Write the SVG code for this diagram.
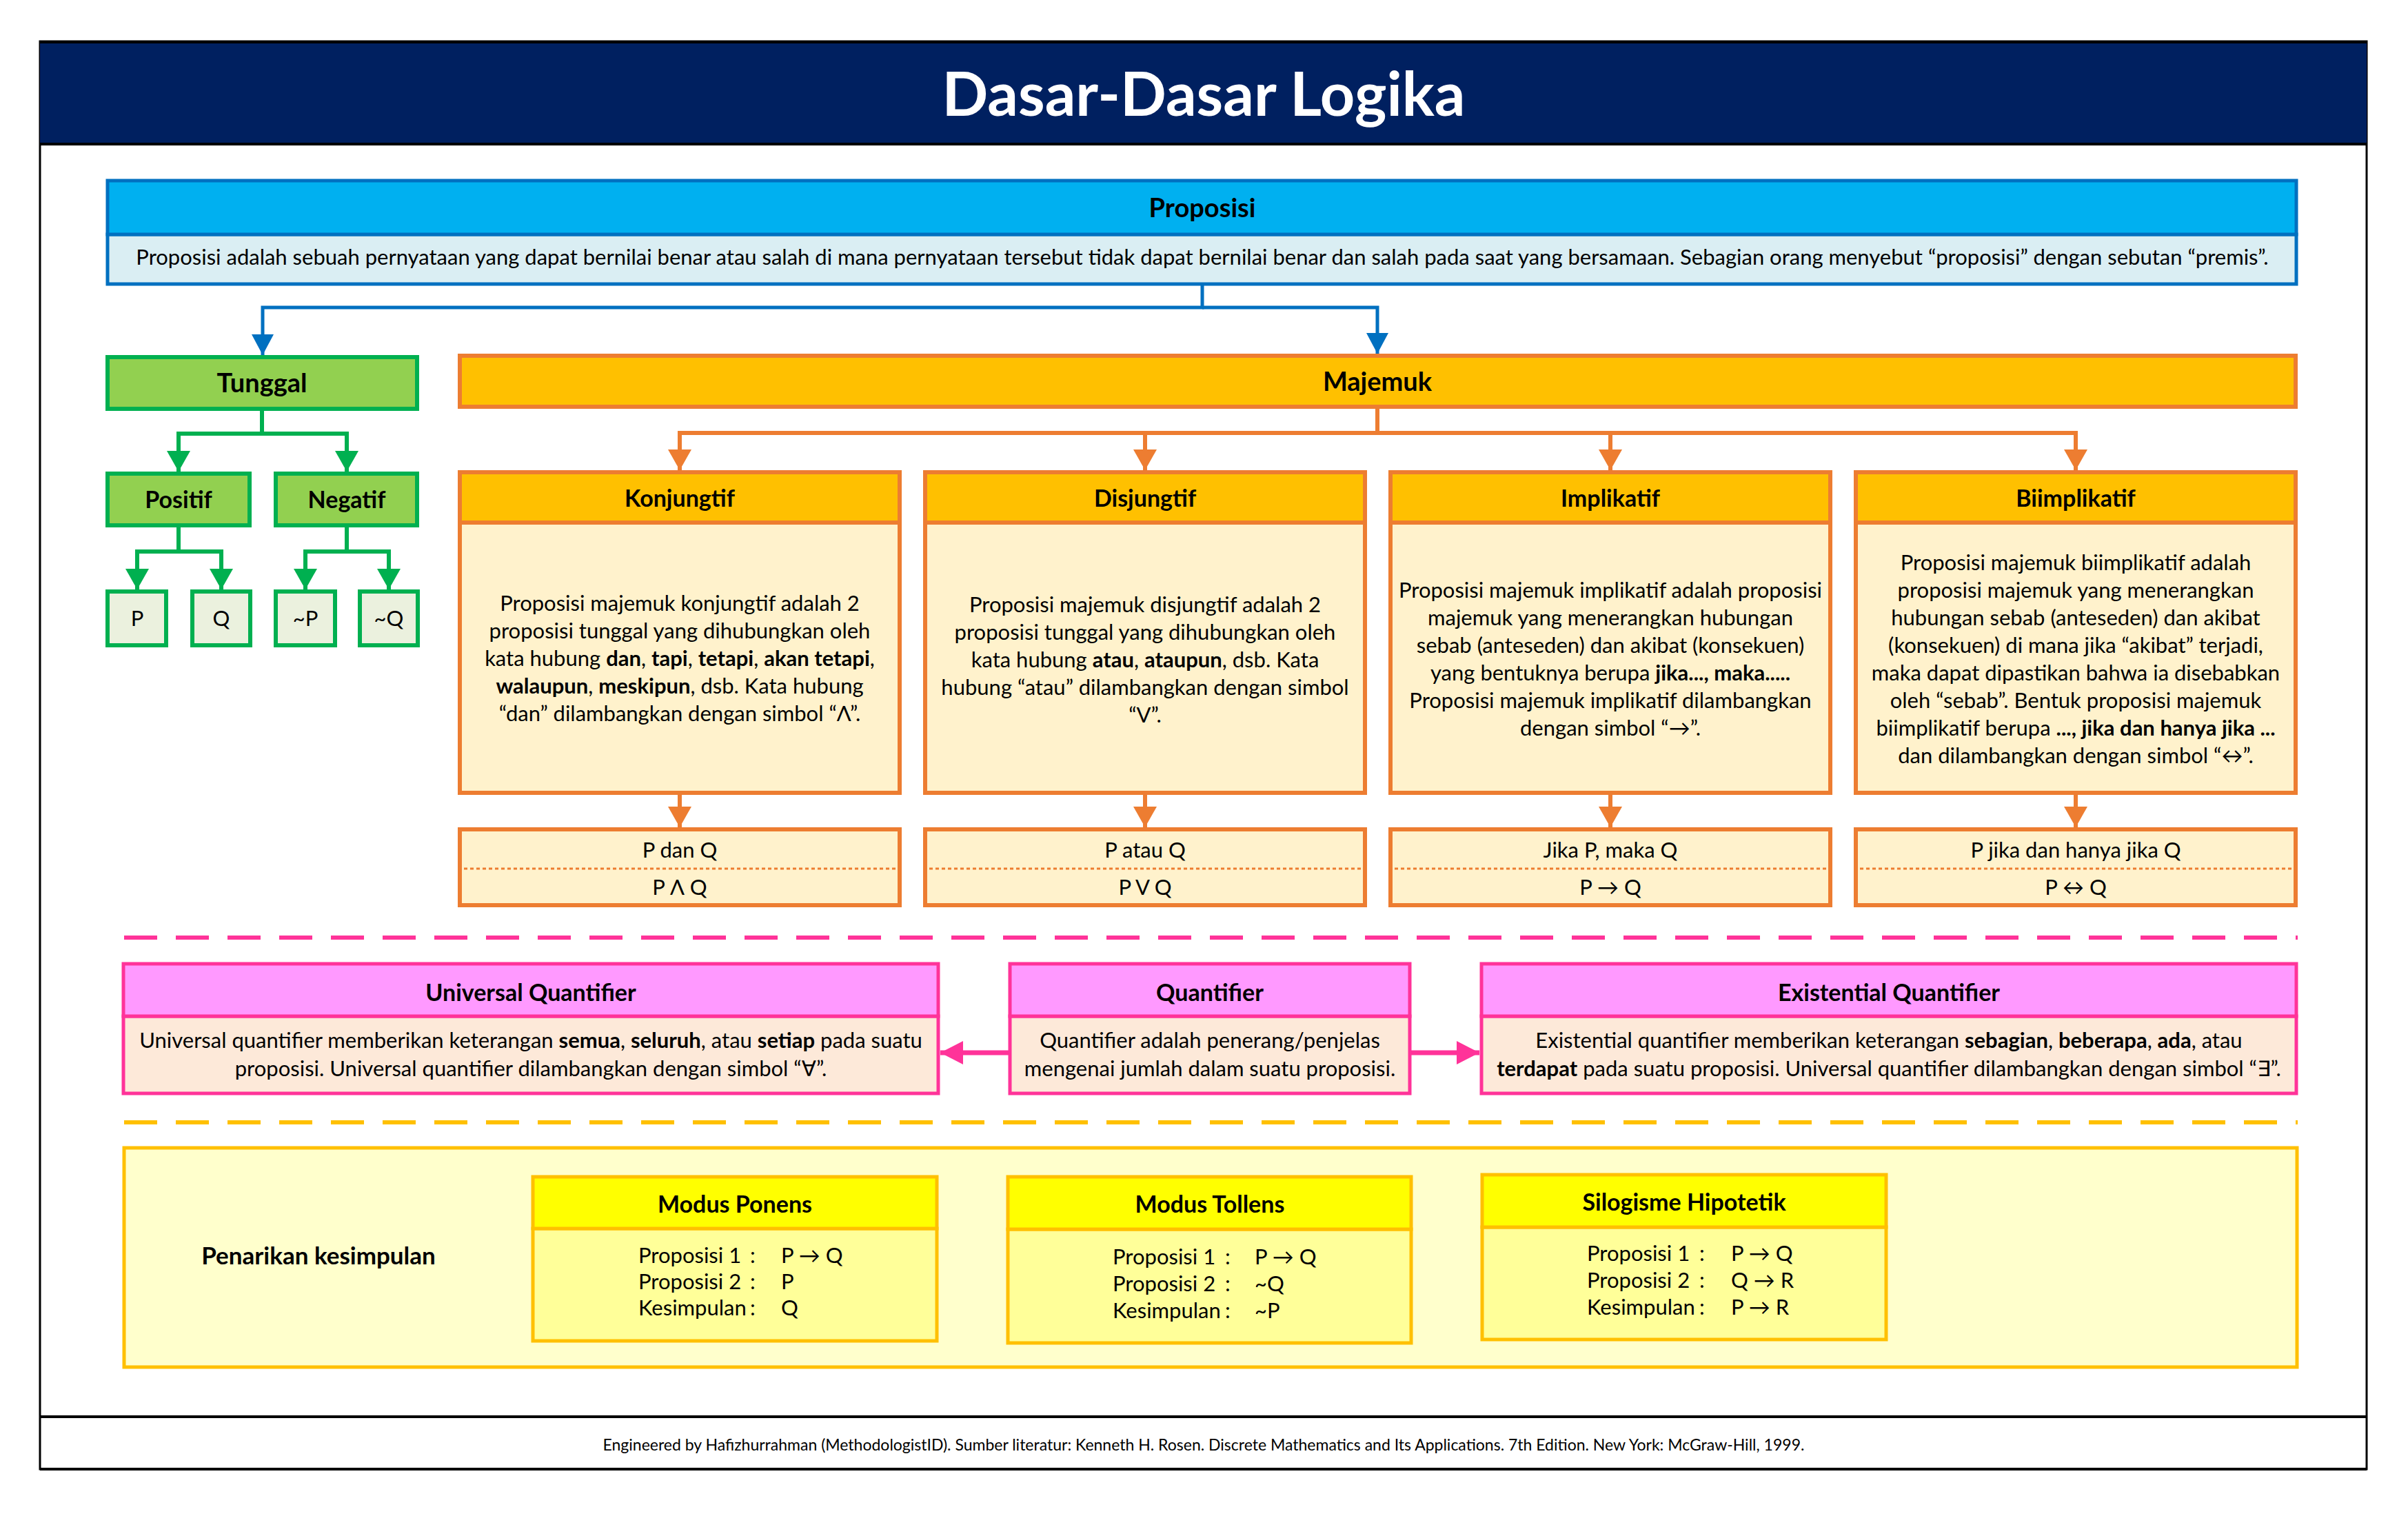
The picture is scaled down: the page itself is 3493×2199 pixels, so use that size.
<svg xmlns="http://www.w3.org/2000/svg" width="3493" height="2199" viewBox="0 0 3493 2199">
  <style>
    text { font-family: "Lato", "Open Sans", "DejaVu Sans", sans-serif; fill: #000; }
    .t { font-size: 31px; }
    .tc { font-size: 31px; text-anchor: middle; }
    .h { font-size: 34px; font-weight: bold; text-anchor: middle; }
    .hl { font-size: 38px; font-weight: bold; text-anchor: middle; }
    .b { font-weight: bold; }
    .blue-h { fill: #00B0F0; stroke: #0070C0; stroke-width: 5; }
    .blue-b { fill: #DAEEF3; stroke: #0070C0; stroke-width: 5; }
    .green { fill: #92D050; stroke: #00B050; stroke-width: 6; }
    .green-l { fill: #EBF1DE; stroke: #00B050; stroke-width: 6; }
    .or-h { fill: #FFC000; stroke: #ED7D31; stroke-width: 6; }
    .or-b { fill: #FFF2CC; stroke: #ED7D31; stroke-width: 6; }
    .pk-h { fill: #FF99FF; stroke: #FF3399; stroke-width: 5; }
    .pk-b { fill: #FDE9D9; stroke: #FF3399; stroke-width: 5; }
    .yl-h { fill: #FFFF00; stroke: #FFC000; stroke-width: 5; }
    .yl-b { fill: #FFFF99; stroke: #FFC000; stroke-width: 5; }
    .c-blue { stroke: #0070C0; stroke-width: 5; fill: none; }
    .c-green { stroke: #00B050; stroke-width: 6; fill: none; }
    .c-or { stroke: #ED7D31; stroke-width: 6; fill: none; }
    .c-pink { stroke: #FF3399; stroke-width: 7; fill: none; }
    .dots { stroke: #ED7D31; stroke-width: 3; stroke-dasharray: 5 4; }
  </style>
  <defs>
    <marker id="ah-blue" markerUnits="userSpaceOnUse" markerWidth="32" markerHeight="32" refX="30" refY="16" orient="auto">
      <path d="M0,0 L30,16 L0,32 Z" fill="#0070C0"/>
    </marker>
    <marker id="ah-green" markerUnits="userSpaceOnUse" markerWidth="32" markerHeight="34" refX="30" refY="17" orient="auto">
      <path d="M0,0 L30,17 L0,34 Z" fill="#00B050"/>
    </marker>
    <marker id="ah-or" markerUnits="userSpaceOnUse" markerWidth="32" markerHeight="34" refX="30" refY="17" orient="auto">
      <path d="M0,0 L30,17 L0,34 Z" fill="#ED7D31"/>
    </marker>
    <marker id="ah-pink" markerUnits="userSpaceOnUse" markerWidth="34" markerHeight="34" refX="33" refY="17" orient="auto">
      <path d="M0,0 L33,17 L0,34 Z" fill="#FF3399"/>
    </marker>
  </defs>

  <rect width="3493" height="2199" fill="#fff"/>

  <!-- outer frame and title band -->
  <g id="frame">
    <rect x="58" y="60" width="3375" height="2071" fill="#fff" stroke="#000" stroke-width="3"/>
    <rect x="58" y="60" width="3375" height="150" fill="#002060"/>
    <line x1="58" y1="61" x2="3433" y2="61" stroke="#000" stroke-width="4"/>
    <line x1="58" y1="209" x2="3433" y2="209" stroke="#000" stroke-width="4"/>
    <line x1="58" y1="2055" x2="3433" y2="2055" stroke="#000" stroke-width="4"/>
    <line x1="58" y1="2131" x2="3433" y2="2131" stroke="#000" stroke-width="4"/>
    <text x="1746" y="168" font-size="88" font-weight="bold" text-anchor="middle" style="fill:#fff">Dasar-Dasar Logika</text>
  </g>

  <!-- section separators -->
  <g id="separators">
    <line x1="180" y1="1360" x2="3333" y2="1360" stroke="#FF3399" stroke-width="6" stroke-dasharray="48 27"/>
    <line x1="180" y1="1628" x2="3333" y2="1628" stroke="#FFC000" stroke-width="6" stroke-dasharray="48 27"/>
  </g>

  <!-- connectors -->
  <g id="connectors">
    <path class="c-blue" d="M1744,412 V446 H381 V515" marker-end="url(#ah-blue)"/>
    <path class="c-blue" d="M1744,446 H1998 V513" marker-end="url(#ah-blue)"/>

    <path class="c-green" d="M380,593 V629 H259 V684" marker-end="url(#ah-green)"/>
    <path class="c-green" d="M380,629 H503 V684" marker-end="url(#ah-green)"/>
    <path class="c-green" d="M259,762 V800 H199 V855" marker-end="url(#ah-green)"/>
    <path class="c-green" d="M259,800 H321 V855" marker-end="url(#ah-green)"/>
    <path class="c-green" d="M503,762 V800 H443 V855" marker-end="url(#ah-green)"/>
    <path class="c-green" d="M503,800 H564 V855" marker-end="url(#ah-green)"/>

    <path class="c-or" d="M1998,590 V628 H986 V682" marker-end="url(#ah-or)"/>
    <path class="c-or" d="M1661,628 V682" marker-end="url(#ah-or)"/>
    <path class="c-or" d="M1998,628 H2336 V682" marker-end="url(#ah-or)"/>
    <path class="c-or" d="M2336,628 H3011 V682" marker-end="url(#ah-or)"/>

    <path class="c-or" d="M986,1150 V1200" marker-end="url(#ah-or)"/>
    <path class="c-or" d="M1661,1150 V1200" marker-end="url(#ah-or)"/>
    <path class="c-or" d="M2336,1150 V1200" marker-end="url(#ah-or)"/>
    <path class="c-or" d="M3011,1150 V1200" marker-end="url(#ah-or)"/>

    <path class="c-pink" d="M1465,1527 H1364" marker-end="url(#ah-pink)"/>
    <path class="c-pink" d="M2046,1527 H2146" marker-end="url(#ah-pink)"/>
  </g>

  <!-- Proposisi -->
  <g id="proposisi">
    <rect class="blue-b" x="156" y="340" width="3175" height="72"/>
    <rect class="blue-h" x="156" y="262" width="3175" height="78"/>
    <text class="hl" x="1744" y="315">Proposisi</text>
    <text class="tc" x="1744" y="384">Proposisi adalah sebuah pernyataan yang dapat bernilai benar atau salah di mana pernyataan tersebut tidak dapat bernilai benar dan salah pada saat yang bersamaan. Sebagian orang menyebut “proposisi” dengan sebutan “premis”.</text>
  </g>

  <!-- Tunggal branch -->
  <g id="tunggal">
    <rect class="green" x="156" y="518" width="449" height="75"/>
    <text class="hl" x="380" y="569">Tunggal</text>
  </g>
  <g id="positif">
    <rect class="green" x="156" y="687" width="206" height="75"/>
    <text class="h" x="259" y="737">Positif</text>
  </g>
  <g id="negatif">
    <rect class="green" x="400" y="687" width="205" height="75"/>
    <text class="h" x="503" y="737">Negatif</text>
  </g>
  <g id="p">
    <rect class="green-l" x="156" y="858" width="85" height="78"/>
    <text class="tc" x="199" y="908">P</text>
  </g>
  <g id="q">
    <rect class="green-l" x="279" y="858" width="84" height="78"/>
    <text class="tc" x="321" y="908">Q</text>
  </g>
  <g id="not-p">
    <rect class="green-l" x="400" y="858" width="86" height="78"/>
    <text class="tc" x="443" y="908">~P</text>
  </g>
  <g id="not-q">
    <rect class="green-l" x="522" y="858" width="84" height="78"/>
    <text class="tc" x="564" y="908">~Q</text>
  </g>

  <!-- Majemuk branch -->
  <g id="majemuk">
    <rect class="or-h" x="667" y="516" width="2663" height="74"/>
    <text class="hl" x="1998" y="567">Majemuk</text>
  </g>

  <g id="konjungtif">
    <rect class="or-b" x="667" y="758" width="638" height="392"/>
    <rect class="or-h" x="667" y="685" width="638" height="73"/>
    <text class="h" x="986" y="735">Konjungtif</text>
    <text class="tc" x="986" y="886">Proposisi majemuk konjungtif adalah 2</text>
    <text class="tc" x="986" y="926">proposisi tunggal yang dihubungkan oleh</text>
    <text class="tc" x="986" y="966">kata hubung <tspan class="b">dan</tspan>, <tspan class="b">tapi</tspan>, <tspan class="b">tetapi</tspan>, <tspan class="b">akan tetapi</tspan>,</text>
    <text class="tc" x="986" y="1006"><tspan class="b">walaupun</tspan>, <tspan class="b">meskipun</tspan>, dsb. Kata hubung</text>
    <text class="tc" x="986" y="1046">“dan” dilambangkan dengan simbol “Λ”.</text>
  </g>
  <g id="konjungtif-form">
    <rect class="or-b" x="667" y="1203" width="638" height="110"/>
    <line class="dots" x1="673" y1="1260" x2="1299" y2="1260"/>
    <text class="tc" x="986" y="1244">P dan Q</text>
    <text class="tc" x="986" y="1298">P Λ Q</text>
  </g>

  <g id="disjungtif">
    <rect class="or-b" x="1342" y="758" width="638" height="392"/>
    <rect class="or-h" x="1342" y="685" width="638" height="73"/>
    <text class="h" x="1661" y="735">Disjungtif</text>
    <text class="tc" x="1661" y="888">Proposisi majemuk disjungtif adalah 2</text>
    <text class="tc" x="1661" y="928">proposisi tunggal yang dihubungkan oleh</text>
    <text class="tc" x="1661" y="968">kata hubung <tspan class="b">atau</tspan>, <tspan class="b">ataupun</tspan>, dsb. Kata</text>
    <text class="tc" x="1661" y="1008">hubung “atau” dilambangkan dengan simbol</text>
    <text class="tc" x="1661" y="1048">“V”.</text>
  </g>
  <g id="disjungtif-form">
    <rect class="or-b" x="1342" y="1203" width="638" height="110"/>
    <line class="dots" x1="1348" y1="1260" x2="1974" y2="1260"/>
    <text class="tc" x="1661" y="1244">P atau Q</text>
    <text class="tc" x="1661" y="1298">P V Q</text>
  </g>

  <g id="implikatif">
    <rect class="or-b" x="2017" y="758" width="638" height="392"/>
    <rect class="or-h" x="2017" y="685" width="638" height="73"/>
    <text class="h" x="2336" y="735">Implikatif</text>
    <text class="tc" x="2336" y="867">Proposisi majemuk implikatif adalah proposisi</text>
    <text class="tc" x="2336" y="907">majemuk yang menerangkan hubungan</text>
    <text class="tc" x="2336" y="947">sebab (anteseden) dan akibat (konsekuen)</text>
    <text class="tc" x="2336" y="987">yang bentuknya berupa <tspan class="b">jika..., maka.....</tspan></text>
    <text class="tc" x="2336" y="1027">Proposisi majemuk implikatif dilambangkan</text>
    <text class="tc" x="2336" y="1067">dengan simbol “→”.</text>
  </g>
  <g id="implikatif-form">
    <rect class="or-b" x="2017" y="1203" width="638" height="110"/>
    <line class="dots" x1="2023" y1="1260" x2="2649" y2="1260"/>
    <text class="tc" x="2336" y="1244">Jika P, maka Q</text>
    <text class="tc" x="2336" y="1298">P → Q</text>
  </g>

  <g id="biimplikatif">
    <rect class="or-b" x="2692" y="758" width="638" height="392"/>
    <rect class="or-h" x="2692" y="685" width="638" height="73"/>
    <text class="h" x="3011" y="735">Biimplikatif</text>
    <text class="tc" x="3011" y="827">Proposisi majemuk biimplikatif adalah</text>
    <text class="tc" x="3011" y="867">proposisi majemuk yang menerangkan</text>
    <text class="tc" x="3011" y="907">hubungan sebab (anteseden) dan akibat</text>
    <text class="tc" x="3011" y="947">(konsekuen) di mana jika “akibat” terjadi,</text>
    <text class="tc" x="3011" y="987">maka dapat dipastikan bahwa ia disebabkan</text>
    <text class="tc" x="3011" y="1027">oleh “sebab”. Bentuk proposisi majemuk</text>
    <text class="tc" x="3011" y="1067">biimplikatif berupa <tspan class="b">..., jika dan hanya jika ...</tspan></text>
    <text class="tc" x="3011" y="1107">dan dilambangkan dengan simbol “↔”.</text>
  </g>
  <g id="biimplikatif-form">
    <rect class="or-b" x="2692" y="1203" width="638" height="110"/>
    <line class="dots" x1="2698" y1="1260" x2="3324" y2="1260"/>
    <text class="tc" x="3011" y="1244">P jika dan hanya jika Q</text>
    <text class="tc" x="3011" y="1298">P ↔ Q</text>
  </g>

  <!-- quantifiers -->
  <g id="universal">
    <rect class="pk-b" x="179" y="1474" width="1182" height="112"/>
    <rect class="pk-h" x="179" y="1398" width="1182" height="76"/>
    <text class="h" x="770" y="1452">Universal Quantifier</text>
    <text class="tc" x="770" y="1520">Universal quantifier memberikan keterangan <tspan class="b">semua</tspan>, <tspan class="b">seluruh</tspan>, atau <tspan class="b">setiap</tspan> pada suatu</text>
    <text class="tc" x="770" y="1561">proposisi. Universal quantifier dilambangkan dengan simbol “∀”.</text>
  </g>
  <g id="quantifier">
    <rect class="pk-b" x="1465" y="1474" width="580" height="112"/>
    <rect class="pk-h" x="1465" y="1398" width="580" height="76"/>
    <text class="h" x="1755" y="1452">Quantifier</text>
    <text class="tc" x="1755" y="1520">Quantifier adalah penerang/penjelas</text>
    <text class="tc" x="1755" y="1561">mengenai jumlah dalam suatu proposisi.</text>
  </g>
  <g id="existential">
    <rect class="pk-b" x="2149" y="1474" width="1182" height="112"/>
    <rect class="pk-h" x="2149" y="1398" width="1182" height="76"/>
    <text class="h" x="2740" y="1452">Existential Quantifier</text>
    <text class="tc" x="2740" y="1520">Existential quantifier memberikan keterangan <tspan class="b">sebagian</tspan>, <tspan class="b">beberapa</tspan>, <tspan class="b">ada</tspan>, atau</text>
    <text class="tc" x="2740" y="1561"><tspan class="b">terdapat</tspan> pada suatu proposisi. Universal quantifier dilambangkan dengan simbol “∃”.</text>
  </g>

  <!-- inference rules -->
  <g id="penarikan">
    <rect x="180" y="1665" width="3152" height="318" fill="#FFFFCC" stroke="#FFC000" stroke-width="5"/>
    <text x="462" y="1834" font-size="35" font-weight="bold" text-anchor="middle">Penarikan kesimpulan</text>
  </g>
  <g id="modus-ponens">
    <rect class="yl-b" x="773" y="1782" width="586" height="163"/>
    <rect class="yl-h" x="773" y="1707" width="586" height="75"/>
    <text class="h" x="1066" y="1759">Modus Ponens</text>
    <text class="t" x="926" y="1832">Proposisi 1</text><text class="t" x="1088" y="1832">:</text><text class="t" x="1133" y="1832">P → Q</text>
    <text class="t" x="926" y="1870">Proposisi 2</text><text class="t" x="1088" y="1870">:</text><text class="t" x="1133" y="1870">P</text>
    <text class="t" x="926" y="1908">Kesimpulan</text><text class="t" x="1088" y="1908">:</text><text class="t" x="1133" y="1908">Q</text>
  </g>
  <g id="modus-tollens">
    <rect class="yl-b" x="1462" y="1783" width="585" height="165"/>
    <rect class="yl-h" x="1462" y="1707" width="585" height="76"/>
    <text class="h" x="1755" y="1759">Modus Tollens</text>
    <text class="t" x="1614" y="1834">Proposisi 1</text><text class="t" x="1777" y="1834">:</text><text class="t" x="1820" y="1834">P → Q</text>
    <text class="t" x="1614" y="1873">Proposisi 2</text><text class="t" x="1777" y="1873">:</text><text class="t" x="1820" y="1873">~Q</text>
    <text class="t" x="1614" y="1912">Kesimpulan</text><text class="t" x="1777" y="1912">:</text><text class="t" x="1820" y="1912">~P</text>
  </g>
  <g id="silogisme-hipotetik">
    <rect class="yl-b" x="2150" y="1780" width="586" height="163"/>
    <rect class="yl-h" x="2150" y="1704" width="586" height="76"/>
    <text class="h" x="2443" y="1756">Silogisme Hipotetik</text>
    <text class="t" x="2302" y="1829">Proposisi 1</text><text class="t" x="2465" y="1829">:</text><text class="t" x="2511" y="1829">P → Q</text>
    <text class="t" x="2302" y="1868">Proposisi 2</text><text class="t" x="2465" y="1868">:</text><text class="t" x="2511" y="1868">Q → R</text>
    <text class="t" x="2302" y="1907">Kesimpulan</text><text class="t" x="2465" y="1907">:</text><text class="t" x="2511" y="1907">P → R</text>
  </g>

  <g id="footer">
    <text x="1746" y="2104" font-size="23" text-anchor="middle">Engineered by Hafizhurrahman (MethodologistID). Sumber literatur: Kenneth H. Rosen. Discrete Mathematics and Its Applications. 7th Edition. New York: McGraw-Hill, 1999.</text>
  </g>
</svg>
